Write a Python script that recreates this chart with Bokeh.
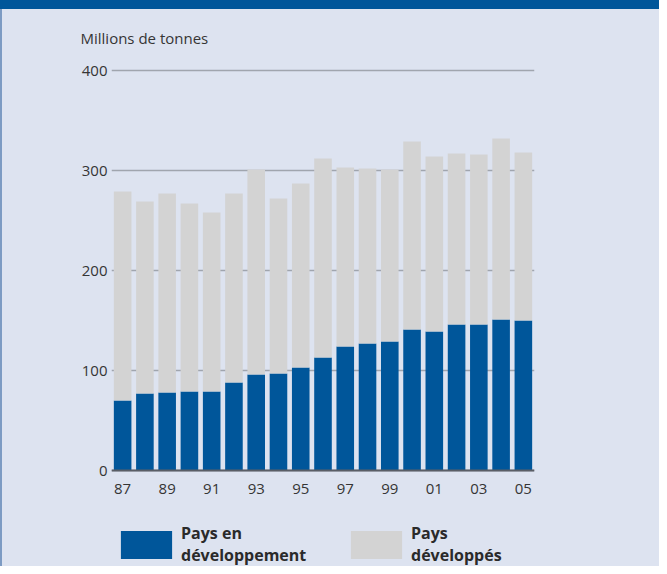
from bokeh.plotting import figure
from bokeh.models import (FixedTicker, Span, Legend, LegendItem, Div, ColumnDataSource, Range1d)
from bokeh.layouts import column, row
from bokeh.embed import file_html
from bokeh.resources import INLINE

years = ["87", "88", "89", "90", "91", "92", "93", "94", "95", "96",
         "97", "98", "99", "00", "01", "02", "03", "04", "05"]
developing = [70, 77, 78, 79, 79, 88, 96, 97, 103, 113,
              124, 127, 129, 141, 139, 146, 146, 151, 150]
developed = [209, 192, 199, 188, 179, 189, 205, 175, 184, 199,
             179, 175, 172, 188, 175, 171, 170, 181, 168]
y_ticks = [0, 100, 200, 300, 400]
x_tick_labels = ["87", "89", "91", "93", "95", "97", "99", "01", "03", "05"]
series_names = ["Pays en\ndéveloppement", "Pays\ndéveloppés"]

BG = "#dde3f0"
BLUE = "#00569a"
GRAY = "#d3d3d3"
TXT = "#353535"
FONT = "Open Sans"

idx = list(range(len(years)))
src = ColumnDataSource(dict(x=idx, developing=developing, developed=developed))

p = figure(width=657, height=557, output_backend="svg", toolbar_location=None,
           x_range=Range1d(-0.5, len(years) - 0.5), y_range=Range1d(-96, 410),
           min_border_left=109, min_border_right=125, min_border_top=51, min_border_bottom=0,
           background_fill_color=BG, border_fill_color=BG, outline_line_color=None,
           styles={"background-color": BG})

rs = p.vbar_stack(["developing", "developed"], x="x", width=0.79, color=[BLUE, GRAY],
                  line_color=None, source=src)

p.yaxis.ticker = FixedTicker(ticks=y_ticks)
tick_pos = [years.index(t) for t in x_tick_labels]
p.xaxis.ticker = FixedTicker(ticks=tick_pos)
p.xaxis.major_label_overrides = {i: t for i, t in zip(tick_pos, x_tick_labels)}
p.xaxis.fixed_location = 0

for ax in (p.xaxis[0], p.yaxis[0]):
    ax.axis_line_color = None
    ax.major_tick_line_color = None
    ax.minor_tick_line_color = None
    ax.major_tick_out = 0
    ax.major_tick_in = 0
    ax.minor_tick_out = 0
    ax.minor_tick_in = 0
    ax.major_label_text_font = FONT
    ax.major_label_text_font_size = "15px"
    ax.major_label_text_color = TXT
p.yaxis.major_label_standoff = 4
p.xaxis.major_label_standoff = 13

p.xgrid.grid_line_color = None
p.ygrid.grid_line_color = "#a0a5ae"
p.ygrid.grid_line_width = 1.5
p.add_layout(Span(location=0, dimension="width", line_color="#5a5e66", line_width=2))

p.title.text = "Millions de  tonnes"
p.title.align = "left"
p.title.offset = -31
p.title.standoff = 26
p.title.text_font = FONT
p.title.text_font_size = "15px"
p.title.text_font_style = "normal"
p.title.text_color = TXT

legend = Legend(items=[LegendItem(label=series_names[0], renderers=[rs[0]]),
                       LegendItem(label=series_names[1], renderers=[rs[1]])],
                orientation="horizontal", location=(3, 0),
                glyph_width=64, glyph_height=35, label_standoff=3, label_width=150,
                spacing=13, padding=0, margin=0,
                background_fill_alpha=0, border_line_alpha=0,
                label_text_font=FONT, label_text_font_size="16px",
                label_text_line_height=0.98,
                label_text_font_style="bold", label_text_color="#2a2a2a")
p.add_layout(legend, "center")

band = Div(text="", width=659, height=9, margin=0, styles={"background-color": BLUE})
side = Div(text="", width=2, height=557, margin=0, styles={"background-color": "#7d9bc3"})
layout = column(band, row(side, p, spacing=0), spacing=0)

open("out.html", "w").write(file_html(layout, INLINE))
